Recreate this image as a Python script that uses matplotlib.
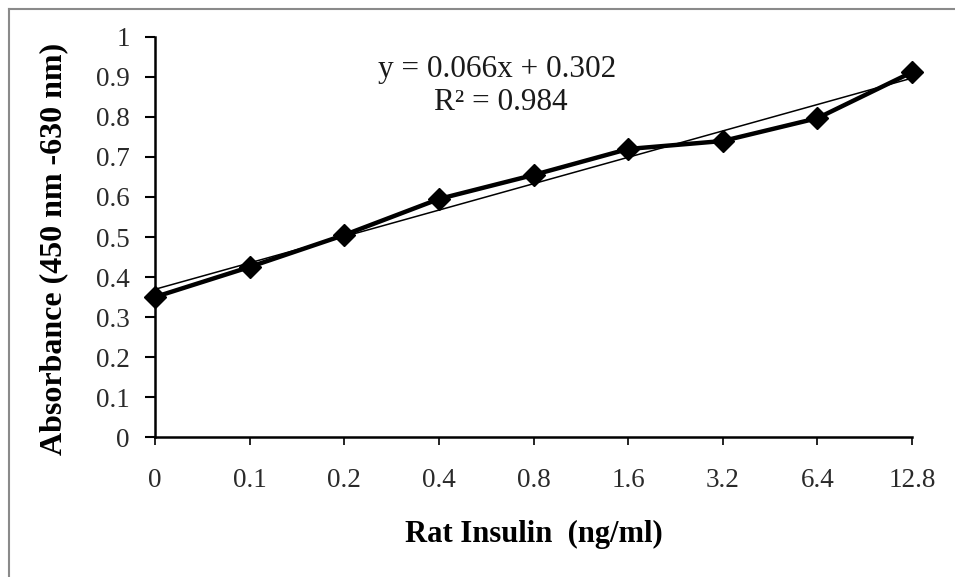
import numpy as np
import matplotlib.pyplot as plt
from matplotlib.lines import Line2D

# === data ===
conc_labels = ["0", "0.1", "0.2", "0.4", "0.8", "1.6", "3.2", "6.4", "12.8"]
absorbance = [0.35, 0.425, 0.505, 0.595, 0.655, 0.72, 0.74, 0.797, 0.912]
y_ticks = [0, 0.1, 0.2, 0.3, 0.4, 0.5, 0.6, 0.7, 0.8, 0.9, 1]
eq_text = "y = 0.066x + 0.302"
r2_text = "R² = 0.984"

plt.rcParams['font.family'] = ['Liberation Serif', 'DejaVu Serif']

fig = plt.figure(figsize=(9.55, 5.77), dpi=100)
ax = fig.add_axes([0.1623, 0.2426, 0.7927, 0.6933])

xpos = np.arange(len(conc_labels))

# linear trendline (Excel style, x = 1..n)
slope, intercept = np.polyfit(xpos + 1, absorbance, 1)
ax.plot(xpos, slope * (xpos + 1) + intercept, color='black', lw=1.1, zorder=2)

ax.plot(xpos, absorbance, color='black', lw=3.2, marker='D', markersize=11,
        zorder=3, clip_on=False)

ax.set_xlim(0, len(conc_labels) - 1)
ax.set_ylim(0, 1)
ax.set_xticks(xpos)
ax.set_xticklabels(conc_labels)
ax.set_yticks(y_ticks)
ax.set_yticklabels([f"{v:g}" for v in y_ticks])

for s in ['top', 'right']:
    ax.spines[s].set_visible(False)
for s in ['left', 'bottom']:
    ax.spines[s].set_linewidth(1.8)

ax.tick_params(axis='y', direction='out', length=7, width=1.5, pad=11, labelsize=19.5,
               labelcolor='#2a2a2a', color='black')
ax.tick_params(axis='x', direction='out', length=6, width=1.2, pad=16, labelsize=19.5,
               labelcolor='#2a2a2a', color='black')

ax.set_xlabel("Rat Insulin  (ng/ml)", fontsize=22, fontweight='bold', labelpad=20)
ax.set_ylabel("Absorbance (450 nm -630 nm)", fontsize=23, fontweight='bold')
ax.yaxis.set_label_coords(-0.114, 0.47)

ax.text(0.452, 0.9175, eq_text, transform=ax.transAxes, ha='center', va='center',
        fontsize=22.5, color='#1a1a1a')
ax.text(0.457, 0.835, r2_text, transform=ax.transAxes, ha='center', va='center',
        fontsize=22.5, color='#1a1a1a')

# outer chart border (only top and left visible in the crop)
fig.add_artist(Line2D([9 / 955, 9 / 955], [0, 1 - 9 / 577], color='#8a8a8a', lw=1.5))
fig.add_artist(Line2D([9 / 955, 1], [1 - 9 / 577, 1 - 9 / 577], color='#8a8a8a', lw=1.5))

fig.savefig("out.png", dpi=100)
